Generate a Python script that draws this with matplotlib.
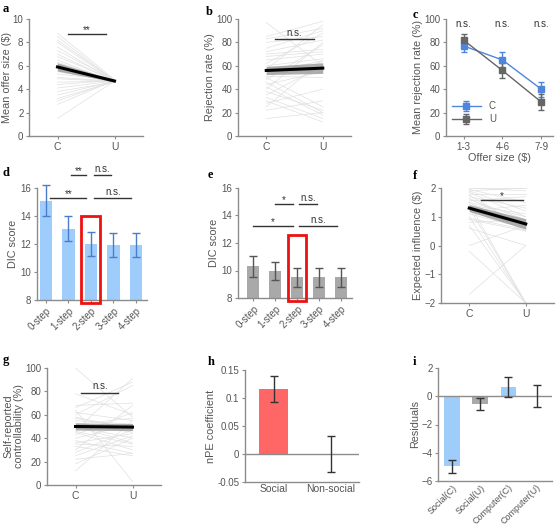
import numpy as np
import matplotlib
matplotlib.use("Agg")
import matplotlib.pyplot as plt
from matplotlib.patches import Rectangle

plt.rcParams['font.family'] = ['Liberation Sans', 'DejaVu Sans']
plt.rcParams['font.size'] = 7

# ---- data ----
conds = ['C', 'U']

# a: mean offer size per subject
offer_c = [8.8, 8.5, 8.2, 8.0, 7.6, 7.3, 7.0, 6.8, 6.5, 6.3, 6.2, 6.1, 6.0, 5.9, 5.8,
           5.7, 5.6, 5.5, 5.3, 5.0, 4.9, 4.6, 4.4, 4.1, 3.8, 3.5, 3.2, 3.0, 2.7, 1.5]
offer_u = [4.8, 4.7, 4.75, 4.7, 4.65, 4.8, 4.7, 4.75, 4.6, 4.7, 4.8, 4.7, 4.65, 4.7, 4.75,
           4.7, 4.6, 4.7, 4.8, 4.7, 4.65, 4.7, 4.75, 4.7, 4.6, 4.7, 4.65, 4.7, 4.75, 4.7]
offer_mean = [5.9, 4.7]
offer_sem = [0.35, 0.08]

# b: rejection rate per subject
rej_c = [97, 85, 83, 80, 75, 72, 70, 68, 65, 62, 60, 58, 57, 55, 53,
         51, 50, 48, 46, 44, 42, 40, 38, 35, 33, 30, 28, 25, 22, 15]
rej_u = [60, 98, 92, 85, 90, 82, 74, 72, 70, 88, 66, 62, 95, 64, 57,
         50, 25, 78, 20, 55, 18, 80, 22, 60, 15, 12, 40, 65, 30, 20]
rej_mean = [56, 58]
rej_sem = [3.5, 4.5]

# c: mean rejection by offer size
offer_bins = ['1-3', '4-6', '7-9']
rejc_mean = [77, 65, 40]
rejc_err = [5.5, 6.5, 6.5]
reju_mean = [82, 56, 29]
reju_err = [5, 6.5, 6.5]

# d, e: DIC scores
steps = ['0-step', '1-step', '2-step', '3-step', '4-step']
dic_c = [15.1, 13.1, 12.0, 11.9, 11.95]
dic_c_err = [1.1, 0.9, 0.85, 0.85, 0.85]
dic_u = [10.3, 9.95, 9.5, 9.5, 9.5]
dic_u_err = [0.78, 0.65, 0.67, 0.67, 0.67]

# f: expected influence per subject
infl_c = [2.0, 2.0, 1.95, 1.9, 1.85, 1.8, 1.75, 1.7, 1.6, 1.55, 1.5, 1.45, 1.4, 1.35, 1.3,
          1.25, 1.2, 1.1, 1.0, 0.95, 0.8, 0.7, 0.6, 0.0, -0.2, -1.7, 1.9, 1.65, 0.9, 1.5]
infl_u = [2.0, 1.9, 1.5, 1.2, 1.0, 1.8, 0.6, 1.3, 0.9, 1.7, 0.5, -2.0, 1.1, 0.8, -2.0,
          0.7, 1.4, 0.6, -2.0, 0.55, 0.9, -2.0, 0.0, 0.7, -2.0, 0.0, 2.0, 0.65, 0.5, 1.0]
infl_mean = [1.3, 0.75]
infl_sem = [0.12, 0.18]

# g: self-reported controllability per subject
ctrl_c = [100, 78, 68, 66, 62, 60, 57, 55, 53, 52, 50, 48, 47, 46, 45,
          43, 40, 38, 36, 35, 33, 30, 28, 25, 22, 18, 12, 64, 58, 50]
ctrl_u = [58, 60, 70, 88, 55, 85, 48, 52, 45, 57, 40, 50, 91, 35, 30,
          62, 52, 27, 44, 33, 25, 68, 47, 42, 27, 40, 55, 3, 48, 36]
ctrl_mean = [50, 49.5]
ctrl_sem = [3, 3]

# h: nPE coefficient
npe_groups = ['Social', 'Non-social']
npe_vals = [0.116, 0.0]
npe_err = [0.023, 0.033]

# i: residuals
res_groups = ['Social(C)', 'Social(U)', 'Computer(C)', 'Computer(U)']
res_vals = [-4.95, -0.55, 0.64, 0.0]
res_err = [0.46, 0.42, 0.7, 0.79]

# ---- style helpers ----
W, H = 559, 530
SP = '#8c8c8c'
TXT = '#555555'
BLUE = '#9fcdfb'
GRAY = '#a9a9a9'
FS = 7
LFS = 7.8


def make_ax(fig, l, r, t, b):
    ax = fig.add_axes([l / W, 1 - b / H, (r - l) / W, (b - t) / H])
    for s in ['top', 'right']:
        ax.spines[s].set_visible(False)
    for s in ['left', 'bottom']:
        ax.spines[s].set_color(SP)
        ax.spines[s].set_linewidth(1.0)
    ax.tick_params(colors=SP, labelcolor=TXT, labelsize=FS, length=2.5, width=0.8, pad=1.5)
    ax.yaxis.label.set_color(TXT)
    ax.xaxis.label.set_color(TXT)
    return ax


def sig(ax, x0, x1, y, txt, dy):
    ax.plot([x0, x1], [y, y], color='#333333', lw=1.0, clip_on=False)
    ax.text((x0 + x1) / 2, y + dy, txt, ha='center', va='bottom', fontsize=FS,
            color='#333333', clip_on=False)


def paired(ax, c, u, mean, sem):
    x = [1, 2]
    for a, b in zip(c, u):
        ax.plot(x, [a, b], color='#e0e0e0', lw=0.5, zorder=1)
    lo = [m - s for m, s in zip(mean, sem)]
    hi = [m + s for m, s in zip(mean, sem)]
    ax.fill_between(x, lo, hi, color='#9a9a9a', alpha=0.8, lw=0, zorder=2)
    ax.plot(x, mean, color='black', lw=2.2, zorder=3)
    ax.set_xlim(0.5, 2.5)
    ax.set_xticks(x)
    ax.set_xticklabels(conds, fontsize=FS + 0.5)


fig = plt.figure(figsize=(W / 100, H / 100), dpi=100)

# a
ax = make_ax(fig, 29, 143, 19, 136)
paired(ax, offer_c, offer_u, offer_mean, offer_sem)
ax.set_ylim(0, 10)
ax.set_yticks([0, 2, 4, 6, 8, 10])
ax.set_ylabel('Mean offer size ($)', fontsize=LFS, labelpad=0.5)
sig(ax, 1.18, 1.85, 8.75, '**', -0.1)

# b
ax = make_ax(fig, 238, 351, 19, 136)
paired(ax, rej_c, rej_u, rej_mean, rej_sem)
ax.set_ylim(0, 100)
ax.set_yticks(range(0, 101, 20))
ax.set_ylabel('Rejection rate (%)', fontsize=LFS, labelpad=1)
sig(ax, 1.15, 1.85, 83, 'n.s.', 1)

# c
ax = make_ax(fig, 446, 553, 19, 136)
xc = np.arange(1, 4)
ax.errorbar(xc, rejc_mean, yerr=rejc_err, color='#4f86dc', marker='s', ms=4.5, lw=1,
            capsize=2.5, elinewidth=1, label='C')
ax.errorbar(xc, reju_mean, yerr=reju_err, color='#666666', marker='s', ms=4.5, lw=1,
            capsize=2.5, elinewidth=1, label='U')
ax.set_xlim(0.55, 3.3)
ax.set_ylim(0, 100)
ax.set_yticks(range(0, 101, 20))
ax.set_xticks(xc)
ax.set_xticklabels(offer_bins)
ax.set_xlabel('Offer size ($)', fontsize=LFS, labelpad=1)
ax.set_ylabel('Mean rejection rate (%)', fontsize=LFS, labelpad=1)
for xx in xc:
    ax.text(xx, 96, 'n.s.', ha='center', va='center', fontsize=FS, color='#333333')
leg = ax.legend(loc='lower left', frameon=False, fontsize=FS, handlelength=3,
                borderaxespad=0.2, labelspacing=0.3, bbox_to_anchor=(0.0, 0.05))
for t in leg.get_texts():
    t.set_color(TXT)


# d, e
def dic_panel(l, r, t, b, vals, errs, col, ecol, tiers):
    ax = make_ax(fig, l, r, t, b)
    xs = np.arange(len(steps))
    ax.bar(xs, vals, width=0.55, color=col, zorder=1)
    eb = ax.errorbar(xs, vals, yerr=errs, fmt='none', ecolor=ecol, elinewidth=1,
                     capsize=3, zorder=2)
    for art in eb.lines[1] + eb.lines[2]:
        art.set_clip_on(False)
    ax.set_ylim(8, 16)
    ax.set_yticks([8, 10, 12, 14, 16])
    ax.set_xticks(xs)
    ax.set_xticklabels(steps, rotation=45, ha='right', rotation_mode='anchor')
    ax.set_ylabel('DIC score', fontsize=LFS, labelpad=2)
    for x0, x1, y, txt in tiers:
        sig(ax, x0, x1, y, txt, -0.1 if '*' in txt else 0.05)
    return ax


ax = dic_panel(37, 147, 188, 300, dic_c, dic_c_err, BLUE, '#4a7cc8',
               [(0.2, 1.8, 15.3, '**'), (2.15, 3.8, 15.3, 'n.s.'),
                (1.1, 1.8, 16.95, '**'), (2.15, 2.9, 16.95, 'n.s.')])
ax.set_xlim(-0.4, 4.5)
ax.add_patch(Rectangle((1.58, 7.8), 0.84, 6.2, fill=False, ec='#ee1111', lw=2,
                       clip_on=False, zorder=5))

ax = dic_panel(238, 352, 188, 298, dic_u, dic_u_err, GRAY, '#555555',
               [(0.0, 1.8, 13.25, '*'), (2.1, 3.8, 13.25, 'n.s.'),
                (1.0, 1.8, 14.85, '*'), (2.1, 2.9, 14.85, 'n.s.')])
ax.set_xlim(-0.7, 4.5)
ax.add_patch(Rectangle((1.58, 7.8), 0.84, 4.8, fill=False, ec='#ee1111', lw=2,
                       clip_on=False, zorder=5))

# f
ax = make_ax(fig, 441, 554, 188, 303)
paired(ax, infl_c, infl_u, infl_mean, infl_sem)
ax.set_ylim(-2, 2)
ax.set_yticks([-2, -1, 0, 1, 2])
ax.set_ylabel('Expected influence ($)', fontsize=LFS, labelpad=1)
sig(ax, 1.2, 1.95, 1.59, '*', -0.05)

# g
ax = make_ax(fig, 47, 161, 368, 485)
paired(ax, ctrl_c, ctrl_u, ctrl_mean, ctrl_sem)
ax.set_ylim(0, 100)
ax.set_yticks(range(0, 101, 20))
ax.set_ylabel('Self-reported\ncontrollability (%)', fontsize=LFS, labelpad=1,
              linespacing=1.0)
sig(ax, 1.1, 1.75, 79, 'n.s.', 1)

# h
ax = make_ax(fig, 245, 359, 370, 482)
xh = np.arange(1, 3)
ax.bar(xh, npe_vals, width=0.52, color='#ff6666', zorder=1)
ax.errorbar(xh, npe_vals, yerr=npe_err, fmt='none', ecolor='#333333', elinewidth=1,
            capsize=3, zorder=3)
ax.axhline(0, color=SP, lw=1, zorder=2)
ax.set_xlim(0.5, 2.5)
ax.set_ylim(-0.05, 0.15)
ax.set_yticks([-0.05, 0, 0.05, 0.1, 0.15])
ax.set_yticklabels(['-0.05', '0', '0.05', '0.1', '0.15'])
ax.set_xticks(xh)
ax.set_xticklabels(npe_groups, fontsize=FS + 0.5)
ax.tick_params(axis='x', length=0)
ax.set_ylabel('nPE coefficient', fontsize=LFS, labelpad=1)

# i
ax = make_ax(fig, 438, 552, 368, 481)
xi = np.arange(1, 5)
ax.bar(xi, res_vals, width=0.55, color=[BLUE, GRAY, BLUE, GRAY], zorder=1)
ax.errorbar(xi, res_vals, yerr=res_err, fmt='none', ecolor='#333333', elinewidth=1,
            capsize=3, zorder=3)
ax.axhline(0, color=SP, lw=1, zorder=2)
ax.set_xlim(0.5, 4.55)
ax.set_ylim(-6, 2)
ax.set_yticks([-6, -4, -2, 0, 2])
ax.set_xticks(xi)
ax.set_xticklabels(res_groups, rotation=45, ha='right', rotation_mode='anchor',
                   fontsize=6.5)
ax.tick_params(axis='x', length=0)
ax.set_ylabel('Residuals', fontsize=LFS, labelpad=1)

# panel letters
letters = [('a', 3, 9), ('b', 206, 12), ('c', 413, 15),
           ('d', 3, 173), ('e', 208, 175), ('f', 413, 176),
           ('g', 3, 360), ('h', 208, 362), ('i', 413, 362)]
for s, x, y in letters:
    fig.text(x / W, 1 - y / H, s, fontsize=9, fontweight='bold', family='Liberation Serif',
             va='center', ha='left')

fig.savefig('out.png', dpi=100)
